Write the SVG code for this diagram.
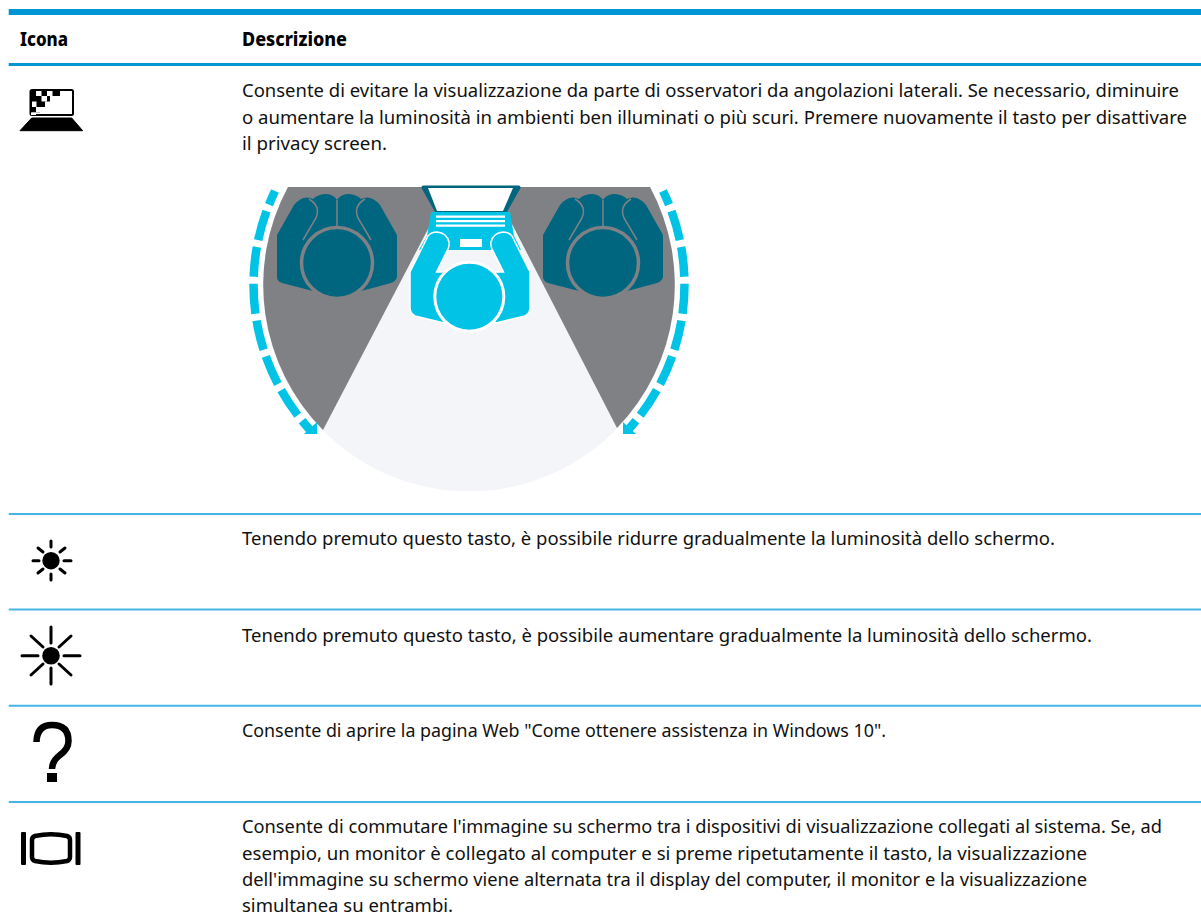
<svg xmlns="http://www.w3.org/2000/svg" width="1201" height="924" viewBox="0 0 1201 924">
<style>
text{font-family:"Noto Sans","Liberation Sans",sans-serif;font-size:18.8px;fill:#111}
.h{font-weight:800;fill:#000}
.tl{fill:#0096d6}.rl{stroke:#45b5e5;stroke-width:2;fill:none}
.teal{fill:#00657f}.cy{fill:#00c3e6}.gr{fill:#808184}
.ray{stroke:#000;stroke-linecap:round;stroke-width:3;fill:none}
.arc{fill:none;stroke:#00c3e6;stroke-width:8.5;stroke-dasharray:15 7 30 7 30 7 30 7 30 7 30 7 30 7 40}
.gl{fill:none;stroke:#808184;stroke-width:1.5}
</style>
<defs>
<g id="viewer">
<path class="teal" d="M277 235L294 205Q303 194 313 199Q318 194 327 194Q334 195 337 200Q340 195 347 194Q356 194 361 199Q371 194 380 205L397 235V277Q396 281 391 283L365 290L337 296L309 290L282 283Q277 281 277 277Z"/>
<circle class="teal" cx="337" cy="263" r="35.5" stroke="#808184" stroke-width="3.5"/>
<path class="gl" d="M337 200V227M303 240L316 218Q321 206 309 199M371 240L358 218Q353 206 365 199"/>
</g>
</defs>
<rect width="1201" height="924" fill="#fff"/>
<g id="table-lines">
<rect class="tl" x="8.7" y="9" width="1192.3" height="6"/>
<rect class="tl" x="8.7" y="63" width="1192.3" height="3"/>
<path class="rl" d="M8.7 514H1201M8.7 609.5H1201M8.7 705.7H1201M8.7 802H1201"/>
</g>
<g id="header">
<text class="h" x="20" y="46" textLength="48" lengthAdjust="spacingAndGlyphs">Icona</text>
<text class="h" x="242" y="46" textLength="105" lengthAdjust="spacingAndGlyphs">Descrizione</text>
</g>
<g id="row-privacy">
<g id="icon-privacy">
<rect x="30.5" y="90" width="42.5" height="25" rx="1.5" fill="none" stroke="#000" stroke-width="2"/>
<path d="M30 90h27v6h-27zM30 96h20v5.500h-20zM30 101.500h15v5.500h-15zM30 107h10v5.500h-10z" fill="#000"/>
<path d="M36 91h5.500v5h-5.500zM47 91h5.500v5h-5.500zM41.500 96h5.500v5.500h-5.500zM32 101.500h4.500v5.500h-4.500zM36 107h5.500v5.500h-5.500zM31 112.500h5v2.500h-5z" fill="#fff"/>
<path d="M55 91h5v5h-5z" fill="#000"/>
<path d="M20 130.700L31.700 118H71.700L82.700 130.700Z" fill="#000" stroke="#000" stroke-width="1" stroke-linejoin="round"/>
</g>
<text x="242" y="97" textLength="937" lengthAdjust="spacingAndGlyphs">Consente di evitare la visualizzazione da parte di osservatori da angolazioni laterali. Se necessario, diminuire</text>
<text x="242" y="123.500" textLength="945" lengthAdjust="spacingAndGlyphs">o aumentare la luminosità in ambienti ben illuminati o più scuri. Premere nuovamente il tasto per disattivare</text>
<text x="242" y="150" textLength="145" lengthAdjust="spacingAndGlyphs">il privacy screen.</text>
<g id="privacy-illustration">
<path d="M288 187H650A206 206 0 1 1 288 187Z" fill="#f4f5f8"/>
<path class="gr" d="M288 187H450L323 430A206 206 0 0 1 288 187Z"/>
<path class="gr" d="M650 187H493L617 428A206 206 0 0 0 650 187Z"/>
<use href="#viewer"/>
<use href="#viewer" x="266"/>
<g id="user-center">
<path class="cy" d="M431 212H510L514 236L521 250H419L427 236Z"/>
<path d="M436 216.700H505M436 221.200H505M436 225.700H505" stroke="#fff" stroke-width="2.200"/>
<rect x="460" y="239" width="22" height="8" fill="#fff"/>
<path d="M423 185.500H519Q521 186 520.500 188L507 212H435L421.500 188Q421 186 423 185.500Z" fill="#00657f"/>
<path d="M428 188H513L503 211H437Z" fill="#fff"/>
<path class="cy" stroke="#fff" stroke-width="1.500" d="M437 232Q431 232 428 236L410 272V308Q410 313 415 316L444 323L469 300L445 272L436.500 272L446 253Q450 247 449 242Q447 233 437 232Z"/>
<path class="cy" stroke="#fff" stroke-width="1.500" d="M503 232Q509 232 512 236L530 272V308Q530 313 525 316L496 323L471 300L495 272L503.500 272L494 253Q490 247 491 242Q493 233 503 232Z"/>
<circle class="cy" cx="469.300" cy="296.700" r="34.500" stroke="#fff" stroke-width="3"/>
</g>
<g id="arrows">
<path class="arc" d="M275 191A215 215 0 0 0 311 431"/>
<path class="arc" d="M663 191A215 215 0 0 1 627 431"/>
<path class="cy" d="M304 434H317V422Z"/>
<path class="cy" d="M636 434H623V422Z"/>
</g>
</g>
</g>
<g id="row-dim">
<circle cx="51" cy="560.700" r="8.700"/>
<path class="ray" d="M51 541V547M51 574V580M33 560.700H39M64 560.700H71M38 548L43 552M65 548L60 552M38 573L43 569M65 573L60 569"/>
<text x="242" y="544.500" textLength="813" lengthAdjust="spacingAndGlyphs">Tenendo premuto questo tasto, è possibile ridurre gradualmente la luminosità dello schermo.</text>
</g>
<g id="row-bright">
<circle cx="51" cy="655.700" r="8.800"/>
<path class="ray" d="M51 627V643M51 668V684M22 655.700H38M64 655.700H80M31 636L43 647M71 636L59 647M31 675L43 664M71 675L59 664"/>
<text x="242" y="642" textLength="850" lengthAdjust="spacingAndGlyphs">Tenendo premuto questo tasto, è possibile aumentare gradualmente la luminosità dello schermo.</text>
</g>
<g id="row-help">
<path d="M36.500 742Q37 725 52 725Q68.500 725 68.500 741Q68.500 749 60 755Q52 761 52 769" fill="none" stroke="#000" stroke-width="6.500"/>
<rect x="47" y="773" width="10" height="9"/>
<text x="242" y="737" textLength="644" lengthAdjust="spacingAndGlyphs">Consente di aprire la pagina Web "Come ottenere assistenza in Windows 10".</text>
</g>
<g id="row-display">
<rect x="21" y="832" width="5" height="33" rx="1"/>
<rect x="75.500" y="832" width="5" height="33" rx="1"/>
<path d="M35 836Q51 832.500 67 836Q70 837 70 840V857Q70 860 67 861Q51 864.500 35 861Q32 860 32 857V840Q32 837 35 836Z" fill="none" stroke="#000" stroke-width="4.500"/>
<text x="242" y="833" textLength="920" lengthAdjust="spacingAndGlyphs">Consente di commutare l'immagine su schermo tra i dispositivi di visualizzazione collegati al sistema. Se, ad</text>
<text x="242" y="860" textLength="845" lengthAdjust="spacingAndGlyphs">esempio, un monitor è collegato al computer e si preme ripetutamente il tasto, la visualizzazione</text>
<text x="242" y="886" textLength="845" lengthAdjust="spacingAndGlyphs">dell'immagine su schermo viene alternata tra il display del computer, il monitor e la visualizzazione</text>
<text x="242" y="912" textLength="211" lengthAdjust="spacingAndGlyphs">simultanea su entrambi.</text>
</g>
</svg>
